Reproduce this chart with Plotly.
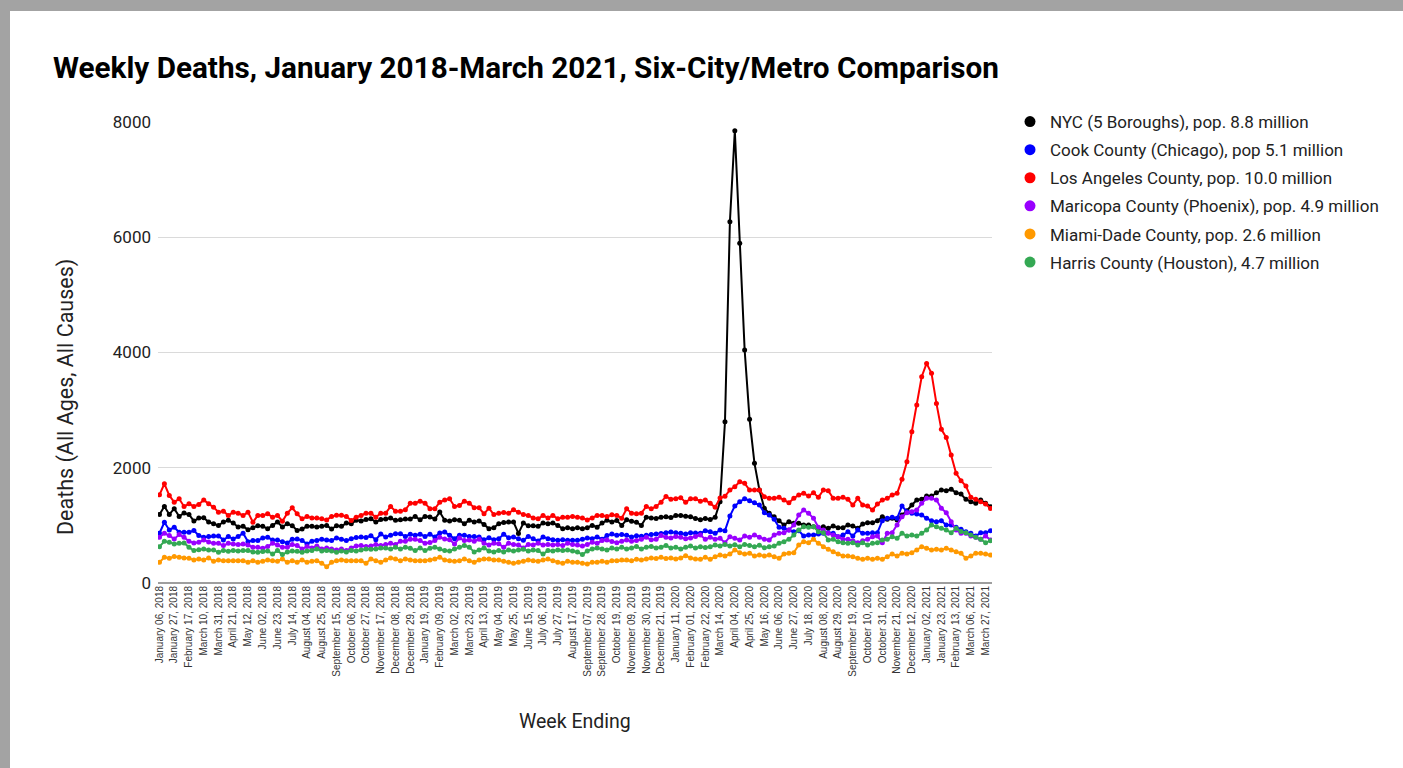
import plotly.graph_objects as go
import pandas as pd

# ---------------- data ----------------
weeks = pd.date_range("2018-01-06", periods=170, freq="7D")
week_labels = [d.strftime("%B %d, %Y") for d in weeks]
tick_positions = week_labels[0:169:3]

series_names = [
    "NYC (5 Boroughs), pop. 8.8 million",
    "Cook County (Chicago), pop 5.1 million",
    "Los Angeles County, pop. 10.0 million",
    "Maricopa County (Phoenix), pop. 4.9 million",
    "Miami-Dade County, pop. 2.6 million",
    "Harris County (Houston), 4.7 million",
]
series_colors = ["#000000", "#0000ff", "#ff0000", "#9900ff", "#ff9900", "#34a853"]

nyc = [
    1190, 1329, 1190, 1289, 1156, 1214, 1190, 1075, 1127, 1133,
    1058, 1029, 1000, 1058, 1087, 1040, 971, 983, 925, 960,
    994, 983, 942, 1000, 1058, 971, 1029, 994, 913, 936,
    983, 983, 971, 983, 1000, 936, 994, 983, 1040, 1029,
    1087, 1075, 1100, 1115, 1058, 1100, 1110, 1127, 1087, 1098,
    1110, 1110, 1156, 1098, 1156, 1144, 1110, 1231, 1087, 1075,
    1098, 1087, 1029, 1087, 1058, 1075, 1017, 942, 960, 1029,
    1052, 1058, 1058, 860, 1040, 994, 994, 983, 1040, 1029,
    1040, 1000, 942, 960, 942, 960, 940, 960, 1000, 968,
    1040, 1087, 1060, 1084, 1000, 1098, 1070, 1055, 1000, 1141,
    1130, 1120, 1141, 1150, 1135, 1170, 1173, 1160, 1150, 1120,
    1098, 1118, 1100, 1141, 1410, 2799, 6268, 7848, 5894, 4043,
    2840, 2077, 1614, 1296, 1209, 1150, 1081, 1006, 1064, 1035,
    1035, 1006, 1006, 977, 948, 977, 948, 989, 960, 960,
    1006, 989, 948, 1023, 1046, 1046, 1081, 1150, 1105, 1122,
    1093, 1180, 1255, 1353, 1440, 1452, 1509, 1509, 1567, 1614,
    1602, 1625, 1567, 1544, 1452, 1411, 1382, 1440, 1382, 1324,
]
cook = [
    863, 1054, 921, 967, 880, 880, 880, 909, 823, 794,
    805, 817, 817, 748, 805, 765, 805, 863, 718, 736,
    736, 782, 794, 748, 748, 718, 695, 759, 765, 736,
    678, 724, 736, 759, 748, 736, 782, 759, 736, 770,
    790, 800, 790, 820, 751, 850, 800, 830, 855, 855,
    809, 844, 827, 844, 809, 844, 800, 867, 884, 827,
    769, 827, 827, 809, 809, 798, 751, 786, 751, 769,
    844, 786, 798, 769, 740, 809, 769, 728, 798, 769,
    751, 740, 751, 740, 740, 740, 760, 780, 770, 800,
    760, 823, 852, 827, 840, 830, 800, 820, 810, 830,
    840, 850, 860, 870, 884, 870, 862, 850, 870, 867,
    862, 908, 891, 862, 920, 908, 1162, 1336, 1411, 1463,
    1428, 1394, 1353, 1220, 1180, 1105, 966, 948, 920, 891,
    908, 815, 833, 833, 850, 862, 873, 862, 804, 833,
    891, 815, 920, 862, 862, 873, 873, 1081, 1122, 1139,
    1122, 1336, 1237, 1209, 1197, 1180, 1122, 1081, 1064, 1081,
    1006, 1006, 966, 931, 891, 862, 815, 873, 873, 908,
]
los_angeles = [
    1530, 1722, 1519, 1403, 1461, 1328, 1374, 1328, 1363, 1442,
    1374, 1316, 1229, 1247, 1171, 1229, 1212, 1171, 1229, 1055,
    1171, 1171, 1200, 1142, 1171, 1072, 1212, 1305, 1200, 1113,
    1154, 1130, 1130, 1113, 1095, 1154, 1177, 1177, 1154, 1084,
    1142, 1171, 1212, 1212, 1142, 1212, 1212, 1328, 1247, 1247,
    1270, 1386, 1386, 1420, 1386, 1287, 1287, 1403, 1442, 1461,
    1328, 1345, 1420, 1386, 1305, 1305, 1200, 1299, 1188, 1212,
    1224, 1212, 1270, 1229, 1188, 1171, 1130, 1113, 1171, 1130,
    1171, 1113, 1142, 1142, 1154, 1142, 1130, 1095, 1130, 1171,
    1171, 1154, 1183, 1171, 1124, 1287, 1212, 1200, 1212, 1328,
    1287, 1328, 1403, 1502, 1455, 1461, 1478, 1403, 1461, 1461,
    1420, 1442, 1386, 1316, 1475, 1504, 1614, 1672, 1757, 1730,
    1614, 1614, 1614, 1498, 1469, 1469, 1486, 1440, 1394, 1469,
    1527, 1556, 1509, 1567, 1486, 1614, 1602, 1469, 1469, 1486,
    1452, 1353, 1469, 1353, 1336, 1267, 1371, 1440, 1469, 1527,
    1556, 1799, 2105, 2626, 3088, 3580, 3811, 3638, 3117, 2666,
    2527, 2221, 1903, 1775, 1683, 1486, 1452, 1411, 1371, 1295,
]
maricopa = [
    794, 863, 823, 765, 840, 794, 724, 695, 707, 748,
    713, 690, 690, 649, 690, 678, 666, 678, 660, 620,
    620, 603, 632, 690, 660, 620, 620, 666, 649, 591,
    632, 608, 643, 591, 608, 591, 574, 591, 562, 608,
    643, 649, 632, 643, 666, 649, 666, 690, 666, 724,
    724, 759, 759, 736, 690, 701, 736, 794, 765, 750,
    678, 782, 736, 748, 724, 760, 690, 660, 690, 680,
    620, 690, 670, 660, 608, 670, 660, 690, 660, 670,
    660, 670, 650, 690, 670, 660, 640, 670, 707, 690,
    736, 748, 720, 700, 724, 748, 724, 736, 760, 794,
    750, 760, 823, 794, 780, 805, 794, 770, 780, 805,
    833, 758, 793, 760, 775, 700, 804, 775, 746, 815,
    793, 833, 793, 758, 746, 833, 862, 873, 920, 1006,
    1180, 1267, 1209, 1122, 966, 920, 862, 833, 804, 758,
    758, 735, 700, 735, 758, 804, 815, 700, 862, 873,
    1006, 1150, 1220, 1237, 1267, 1382, 1469, 1469, 1440, 1296,
    1220, 1064, 920, 862, 862, 815, 793, 758, 815, 746,
]
miami_dade = [
    359, 446, 429, 458, 446, 435, 429, 400, 417, 400,
    435, 377, 400, 388, 388, 388, 388, 388, 359, 388,
    359, 377, 400, 388, 377, 417, 359, 388, 359, 400,
    359, 377, 388, 342, 284, 359, 388, 400, 388, 388,
    388, 388, 342, 417, 388, 359, 400, 435, 417, 388,
    417, 400, 388, 388, 388, 400, 417, 446, 400, 388,
    377, 388, 417, 388, 359, 400, 417, 417, 400, 400,
    377, 359, 342, 359, 377, 400, 388, 377, 400, 417,
    388, 359, 342, 377, 359, 359, 342, 330, 359, 359,
    377, 359, 388, 388, 400, 400, 388, 411, 400, 417,
    435, 423, 446, 423, 435, 417, 435, 475, 435, 417,
    411, 446, 411, 457, 486, 469, 503, 573, 527, 503,
    515, 469, 486, 469, 486, 457, 428, 503, 515, 527,
    659, 717, 700, 758, 688, 630, 584, 544, 503, 469,
    469, 457, 428, 411, 428, 411, 428, 411, 457, 503,
    469, 515, 503, 527, 573, 630, 602, 573, 584, 573,
    602, 573, 544, 515, 428, 469, 515, 515, 503, 486,
]
harris = [
    631, 724, 707, 678, 690, 696, 620, 562, 579, 591,
    574, 574, 533, 562, 550, 562, 556, 562, 562, 539,
    533, 545, 556, 504, 562, 493, 539, 556, 550, 533,
    556, 562, 591, 556, 562, 556, 533, 556, 539, 562,
    556, 574, 591, 585, 591, 608, 608, 591, 620, 591,
    620, 603, 562, 608, 562, 603, 620, 591, 562, 556,
    591, 620, 649, 620, 539, 574, 608, 556, 539, 562,
    539, 574, 556, 574, 585, 556, 574, 562, 504, 562,
    556, 574, 562, 574, 556, 539, 493, 556, 591, 608,
    591, 574, 608, 591, 620, 591, 608, 632, 591, 620,
    632, 608, 620, 649, 608, 620, 591, 620, 643, 608,
    630, 615, 630, 660, 640, 670, 640, 665, 630, 670,
    650, 630, 655, 610, 630, 640, 688, 717, 758, 833,
    920, 977, 966, 977, 891, 873, 746, 758, 717, 700,
    688, 700, 659, 700, 659, 688, 700, 746, 758, 804,
    775, 862, 815, 833, 815, 862, 920, 1006, 977, 948,
    920, 873, 948, 893, 873, 833, 793, 758, 700, 735,
]
series_values = [nyc, cook, los_angeles, maricopa, miami_dade, harris]
for s in series_values:
    assert len(s) == len(week_labels), len(s)

# ---------------- layout geometry (pixels) ----------------
W, H = 1403, 768
L, R, T, B = 158, 411, 122, 185
PW, PH = W - L - R, H - T - B


def px_x(px):
    return (px - L) / PW


def px_y(py):
    return (H - B - py) / PH


fig = go.Figure()
for i, (name, vals, color) in enumerate(zip(series_names, series_values, series_colors)):
    fig.add_trace(go.Scatter(
        x=week_labels, y=vals, mode="lines+markers", name=name,
        line=dict(color=color, width=2), marker=dict(color=color, size=5),
        showlegend=False, legendgroup=f"g{i}",
    ))
for i, (name, color) in enumerate(zip(series_names, series_colors)):
    fig.add_trace(go.Scatter(
        x=[None], y=[None], mode="markers", name=name,
        marker=dict(color=color, size=11), showlegend=True, legendgroup=f"g{i}",
    ))

fig.update_layout(
    width=W, height=H,
    margin=dict(l=L, r=R, t=T, b=B, pad=0),
    paper_bgcolor="white", plot_bgcolor="white",
    title=dict(
        text="<b>Weekly Deaths, January 2018-March 2021, Six-City/Metro Comparison</b>",
        x=53 / W, xanchor="left", xref="container",
        y=1 - 68 / H, yanchor="middle", yref="container",
        font=dict(family="Roboto", size=29.7, color="#000000"),
    ),
    legend=dict(
        x=px_x(1010), xanchor="left", y=px_y(104), yanchor="top",
        font=dict(family="Roboto", size=17, color="#222222"),
        bgcolor="rgba(0,0,0,0)", tracegroupgap=3, itemwidth=30,
    ),
    showlegend=True,
    font=dict(family="Roboto", color="#222222"),
)
fig.update_xaxes(
    type="category", range=[-0.3, len(week_labels) - 0.7],
    tickmode="array", tickvals=tick_positions, ticktext=tick_positions,
    tickangle=-90, tickfont=dict(family="Liberation Sans, Arial", size=10, color="#333333"),
    showgrid=False, zeroline=False, showline=False, ticks="",
    automargin=False,
)
fig.update_yaxes(
    range=[0, 8000], tickvals=[0, 2000, 4000, 6000, 8000],
    tickfont=dict(family="Roboto", size=17, color="#222222"),
    showgrid=True, gridcolor="#dadada", gridwidth=1,
    zeroline=True, zerolinecolor="#9e9e9e", zerolinewidth=2,
    showline=False, ticks="", ticklabelstandoff=6, automargin=False,
)

fig.add_annotation(
    text="Deaths (All Ages, All Causes)", textangle=-90,
    x=px_x(66), y=px_y(397), xref="paper", yref="paper",
    xanchor="center", yanchor="middle",
    showarrow=False, font=dict(family="Roboto", size=21.5, color="#222222"),
)
fig.add_annotation(
    text="Week Ending", x=px_x(575), y=px_y(721), xref="paper", yref="paper",
    xanchor="center", yanchor="middle",
    showarrow=False, font=dict(family="Roboto", size=19.5, color="#222222"),
)

# grey frame around the card
fig.add_shape(type="rect", xref="paper", yref="paper", layer="above",
              x0=px_x(0), x1=px_x(W), y0=px_y(0), y1=px_y(11),
              fillcolor="#a3a3a3", line_width=0)
fig.add_shape(type="rect", xref="paper", yref="paper", layer="above",
              x0=px_x(0), x1=px_x(10), y0=px_y(H), y1=px_y(0),
              fillcolor="#a3a3a3", line_width=0)

fig.write_html("out.html", config={"displayModeBar": False},
               post_script="document.body.style.margin='0px';")
